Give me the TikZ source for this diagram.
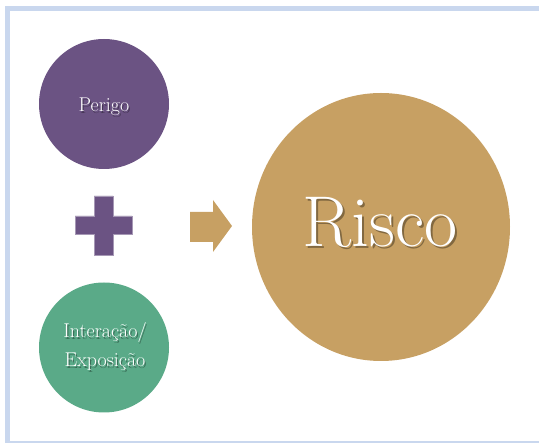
\documentclass[tikz,border=0pt]{standalone}
\usepackage{tikz}
\usetikzlibrary{
  shapes.geometric,%
  positioning,
  calc
}
\definecolor{roxo}{RGB}{107,83,131}
\definecolor{verde}{RGB}{90,170,136}
\definecolor{ouro}{RGB}{199,160,99}
\definecolor{borda}{RGB}{201,215,238}
\tikzset{>=latex}
\tikzset{bola/.style={circle, inner sep=0pt, minimum size=130pt},
  rotulo/.style={text=white, align=center, inner sep=0pt,
    font=\fontsize{20}{29}\selectfont},
  sombra/.style={rotulo, text=black, text opacity=0.35}}

\begin{document}
\begin{tikzpicture}[x=1pt, y=-1pt]
  \useasboundingbox (0,0) rectangle (539,443);
  % moldura
  \fill[borda] (5,6) rectangle (539,11);
  \fill[borda] (5,6) rectangle (10,443);
  \fill[borda] (5,441) rectangle (539,443);

  \node[bola, fill=roxo] (perigo) at (104,104) {};
  \node[bola, fill=verde] (interacao) at (104,347.5) {};
  \node[ellipse, inner sep=0pt, minimum width=258pt, minimum height=268pt,
    fill=ouro] (risco) at (381,227) {};

  \node[sombra, anchor=base] (perigo-s) at (105.2,113.2) {Perigo};
  \node[rotulo, anchor=base] (perigo-t) at (104,112) {Perigo};
  \node[sombra] (interacao-s) at (106.2,348.2) {Interação/\\Exposição};
  \node[rotulo] (interacao-t) at (105,347) {Interação/\\Exposição};
  \node[sombra, anchor=base, font=\fontsize{72}{80}\selectfont] (risco-s)
    at (382,249) {Risco};
  \node[rotulo, anchor=base, font=\fontsize{72}{80}\selectfont] (risco-t)
    at (380,247) {Risco};

  % mais
  \fill[roxo, draw=roxo!60!white, line width=0.6pt]
    (94,196) -- (113,196) -- (113,216) -- (132,216) -- (132,234) -- (113,234)
    -- (113,255) -- (94,255) -- (94,234) -- (75,234) -- (75,216) -- (94,216)
    -- cycle;
  % seta
  \fill[ouro] (190,212) -- (213,212) -- (213,200) -- (232,226) -- (213,252)
    -- (213,242) -- (190,242) -- cycle;
\end{tikzpicture}
\end{document}
